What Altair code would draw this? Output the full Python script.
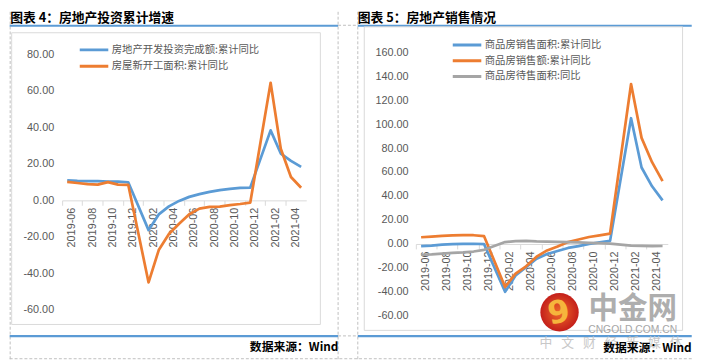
import altair as alt
import pandas as pd

# ---------------- data ----------------
months = ["2019-06", "2019-07", "2019-08", "2019-09", "2019-10", "2019-11", "2019-12",
          "2020-01", "2020-02", "2020-03", "2020-04", "2020-05", "2020-06", "2020-07",
          "2020-08", "2020-09", "2020-10", "2020-11", "2020-12",
          "2021-01", "2021-02", "2021-03", "2021-04", "2021-05"]
x_labels = months[::2]

inv_name = "房地产开发投资完成额:累计同比"
start_name = "房屋新开工面积:累计同比"
inv_vals = [10.9, 10.6, 10.5, 10.5, 10.3, 10.2, 9.9, None, -16.3, -7.7, -3.3, -0.3,
            1.9, 3.4, 4.6, 5.6, 6.3, 6.8, 7.0, None, 38.3, 25.6, 21.6, 18.3]
start_vals = [10.1, 9.5, 8.9, 8.6, 10.0, 8.6, 8.5, None, -44.9, -27.2, -18.4, -12.8,
              -7.6, -4.5, -3.6, -3.4, -2.6, -2.0, -1.2, None, 64.3, 28.2, 12.8, 6.9]

area_name = "商品房销售面积:累计同比"
amt_name = "商品房销售额:累计同比"
unsold_name = "商品房待售面积:同比"
area_vals = [-1.8, -1.3, -0.6, -0.1, 0.1, 0.2, -0.1, None, -39.9, -26.3, -19.3, -12.3,
             -8.4, -5.8, -3.3, -1.8, 0.0, 1.3, 2.6, None, 104.9, 63.8, 48.1, 36.4]
amt_vals = [5.6, 6.2, 6.7, 7.1, 7.3, 7.3, 6.5, None, -35.9, -24.7, -18.6, -10.6,
            -5.4, -2.1, 1.6, 3.7, 5.8, 7.2, 8.7, None, 133.4, 88.5, 68.2, 52.4]
unsold_vals = [-9.0, -8.6, -8.0, -7.5, -7.0, -6.3, -4.9, None, 1.6, 2.4, 2.6, 2.2,
               2.0, 1.8, 1.5, 1.3, 1.0, 0.7, 0.3, None, -1.3, -1.6, -1.8, -1.7]

left_ticks = [-60, -40, -20, 0, 20, 40, 60, 80]
right_ticks = [-60, -40, -20, 0, 20, 40, 60, 80, 100, 120, 140, 160]

title_left = "图表 4：房地产投资累计增速"
title_right = "图表 5：房地产销售情况"
source_text = "数据来源：Wind"
wm_name = "中金网"
wm_site = "CNGOLD.COM.CN"
wm_slogan = "\u2002\u2009".join(["中", "文", "财", "经", "新", "媒", "体"])

BLUE, ORANGE, GRAY = "#5B9BD5", "#ED7D31", "#A5A5A5"
LABEL = "#595959"
FRAME = "#BFBFBF"
BOX = "#D9D9D9"


def long_table(names, series):
    rows = []
    for n, vals in zip(names, series):
        for m, v in zip(months, vals):
            if v is not None:
                rows.append({"month": m, "series": n, "value": v})
    return pd.DataFrame(rows)


left_df = long_table([inv_name, start_name], [inv_vals, start_vals])
right_df = long_table([area_name, amt_name, unsold_name], [area_vals, amt_vals, unsold_vals])

one = pd.DataFrame({"k": [0]})

# ---------------- geometry (panel plot areas) ----------------
W1, H1 = 248, 262
W2, H2 = 256, 268
P1X, P2X, PY = 61.3, 420.7, 49.0
L_DOM = [-60, 81.08]
R_DOM = [-60, 160]
l_off = -(H1 * (0 - L_DOM[0]) / (L_DOM[1] - L_DOM[0]))
r_off = -(H2 * (0 - R_DOM[0]) / (R_DOM[1] - R_DOM[0]))


def lx(px):
    return px - P1X


def rx(px):
    return px - P2X


def yy(py):
    return py - PY


def hrule(x1, x2, y, color, width, dash=None):
    kw = dict(color=color, strokeWidth=width)
    if dash:
        kw["strokeDash"] = dash
    return alt.Chart(one).mark_rule(**kw).encode(
        x=alt.value(x1), x2=alt.value(x2), y=alt.value(y))


def vrule(x, y1, y2, color, width, dash=None):
    kw = dict(color=color, strokeWidth=width)
    if dash:
        kw["strokeDash"] = dash
    return alt.Chart(one).mark_rule(**kw).encode(
        x=alt.value(x), y=alt.value(y1), y2=alt.value(y2))


def label(x, y, s, size, color, align="left", weight="normal",
          font="Noto Sans CJK SC", opacity=1.0, angle=0):
    return alt.Chart(one).mark_text(
        text=s, fontSize=size, color=color, align=align, baseline="middle",
        fontWeight=weight, font=font, opacity=opacity, angle=angle
    ).encode(x=alt.value(x), y=alt.value(y))


def box(x1, x2, y1, y2):
    return alt.Chart(one).mark_rect(filled=False, color=BOX, strokeWidth=1).encode(
        x=alt.value(x1), x2=alt.value(x2), y=alt.value(y1), y2=alt.value(y2))


def line_chart(df, names, colors, width, dom, ticks, off, leg_x, leg_y, row_pad, pad_y):
    step = width / len(months)
    return alt.Chart(df).mark_line(strokeWidth=2.75, strokeJoin="round").encode(
        x=alt.X("month:O",
                scale=alt.Scale(type="band", domain=months, paddingInner=0, paddingOuter=0),
                bandPosition=0.5,
                axis=alt.Axis(values=x_labels, bandPosition=0, labelOffset=step / 2,
                              labelAngle=-90, labelAlign="right", labelBaseline="middle",
                              labelFont="Liberation Sans", labelFontSize=11,
                              labelColor=LABEL, labelPadding=2, labelOverlap=False,
                              domainColor=BOX, tickColor=BOX, tickSize=5,
                              offset=off, grid=False, title=None)),
        y=alt.Y("value:Q",
                scale=alt.Scale(domain=dom, nice=False, zero=False),
                axis=alt.Axis(values=ticks,
                              labelExpr="replace(format(datum.value, '.2f'), '\u2212', '-')",
                              domain=False, ticks=False, grid=False,
                              labelFont="Liberation Sans", labelFontSize=11,
                              labelColor=LABEL, labelPadding=pad_y, title=None)),
        color=alt.Color("series:N",
                        scale=alt.Scale(domain=names, range=colors),
                        legend=alt.Legend(orient="none", legendX=leg_x, legendY=leg_y,
                                          direction="vertical", symbolType="stroke",
                                          symbolSize=841, symbolStrokeWidth=3,
                                          clipHeight=16, rowPadding=row_pad, padding=0,
                                          labelOffset=2, labelLimit=400,
                                          labelFont="Noto Sans CJK SC", labelFontSize=10.5,
                                          labelColor=LABEL, title=None)),
    )


# ---------------- left panel ----------------
dash = [3, 2]
left_layers = [
    alt.Chart(one).mark_rect(opacity=0).encode(
        x=alt.value(lx(8)), x2=alt.value(lx(701)), y=alt.value(yy(8)), y2=alt.value(yy(363))),
    vrule(lx(8.5), yy(8), yy(361), FRAME, 1, dash),
    vrule(lx(341.7), yy(8), yy(361), FRAME, 1, dash),
    vrule(lx(361.7), yy(8), yy(361), FRAME, 1, dash),
    hrule(lx(341.7), lx(361.7), yy(21.7), FRAME, 1, dash),
    hrule(lx(341.7), lx(361.7), yy(337.3), FRAME, 1, dash),
    hrule(lx(8), lx(701), yy(360.5), FRAME, 1, dash),
    hrule(lx(8), lx(341.7), yy(22.2), BLUE, 2.2),
    hrule(lx(8), lx(341.7), yy(337.6), BLUE, 2.2),
    hrule(lx(361.7), lx(701), yy(22.2), BLUE, 2.2),
    hrule(lx(361.7), lx(701), yy(337.6), BLUE, 2.2),
    box(lx(10), lx(323.7), yy(29.3), yy(325.7)),
    line_chart(left_df, [inv_name, start_name], [BLUE, ORANGE], W1, L_DOM, left_ticks,
               l_off, lx(77.7), yy(46.7) - 8, 0.6, 8.6),
    label(lx(8.5), yy(14.5), title_left, 13, "#000000", weight="bold"),
    label(lx(342), yy(348.5), source_text, 12, "#000000", align="right", weight="bold"),
]
left = alt.layer(*left_layers).properties(width=W1, height=H1)

# ---------------- right panel ----------------
right_layers = [
    box(rx(368.3), rx(691.7), yy(23.3), yy(331.7)),
    line_chart(right_df, [area_name, amt_name, unsold_name], [BLUE, ORANGE, GRAY], W2,
               R_DOM, right_ticks, r_off, rx(456.7), yy(41.7) - 8, 0, 8),
    label(rx(361.7), yy(14.5), title_right, 13, "#000000", weight="bold"),
    # watermark
    alt.Chart(one).mark_circle(
        size=1520, opacity=1,
        color=alt.Gradient(gradient="radial",
                           stops=[alt.GradientStop(color="#EE6A2A", offset=0),
                                  alt.GradientStop(color="#C41F1A", offset=1)])
    ).encode(x=alt.value(rx(566.7)), y=alt.value(yy(313.3))),
    label(rx(566), yy(314), "9", 32, "#F6B53C", align="center", weight="bold",
          font="DejaVu Sans", angle=350),
    label(rx(641), yy(310), wm_name, 30, "#A6A6A6", align="center", weight="bold",
          opacity=0.9),
    label(rx(641), yy(331.7), wm_site, 10.5, "#A6A6A6", align="center",
          font="Liberation Sans"),
    label(rx(619), yy(345), wm_slogan, 13, "#C8C8C8", align="center"),
    label(rx(701), yy(349.5), source_text, 12, "#000000", align="right", weight="bold"),
]
right = alt.layer(*right_layers).properties(width=W2, height=H2)

chart = alt.hconcat(left, right, spacing=P2X - (P1X + W1), bounds="flush").resolve_scale(
    color="independent"
).properties(padding=0).configure_view(stroke=None)

chart.save("out.html", embed_options={"renderer": "svg", "actions": False})
